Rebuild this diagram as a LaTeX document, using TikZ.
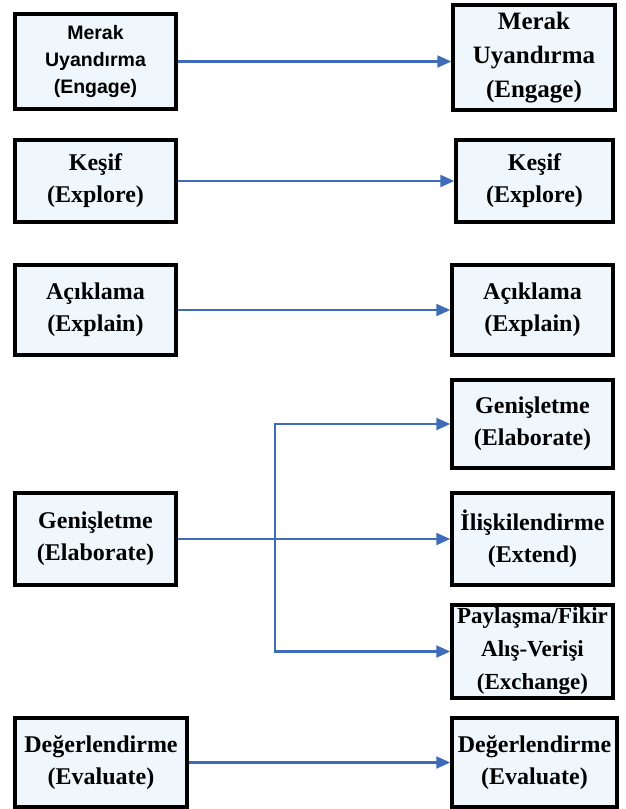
\documentclass[tikz,border=0pt]{standalone}
\usepackage{fontspec}
\setmainfont{Liberation Serif}
\newfontfamily\arialf{Liberation Sans}
\usetikzlibrary{arrows.meta}
\definecolor{boxfill}{RGB}{240,247,252}
\definecolor{arrblue}{RGB}{63,108,184}
\tikzset{
  stagebox/.style={draw=black, line width=3.5pt, fill=boxfill, inner sep=0pt, align=center,
    font=\fontsize{24}{32}\selectfont\bfseries},
  sansbox/.style={stagebox, font=\arialf\fontsize{19.5}{27}\selectfont\bfseries},
  flow/.style={draw=arrblue, line width=2.2pt, -{Triangle[length=14pt,width=12pt]}},
  flowline/.style={draw=arrblue, line width=2.2pt}
}
\begin{document}
\begin{tikzpicture}[x=1pt,y=-1pt]
\useasboundingbox (0,0) rectangle (625,809);
% left column
\node[sansbox, minimum width=161pt, minimum height=95pt] (L1) at (95.5,61.5) {Merak\\Uyandırma\\(Engage)};
\node[stagebox, minimum width=161pt, minimum height=82pt] (L2) at (95.5,181) {Keşif\\(Explore)};
\node[stagebox, minimum width=161pt, minimum height=90pt] (L3) at (95.5,310) {Açıklama\\(Explain)};
\node[stagebox, minimum width=161pt, minimum height=92pt] (L5) at (95.5,539) {Genişletme\\(Elaborate)};
\node[stagebox, minimum width=172pt, minimum height=89pt] (L7) at (101,762.5) {Değerlendirme\\(Evaluate)};
% right column
\node[stagebox, minimum width=162pt, minimum height=105pt, font=\fontsize{25}{34}\selectfont\bfseries] (R1) at (534,57.5) {Merak\\Uyandırma\\(Engage)};
\node[stagebox, minimum width=157pt, minimum height=82pt] (R2) at (534.5,181) {Keşif\\(Explore)};
\node[stagebox, minimum width=161pt, minimum height=90pt] (R3) at (532.5,310) {Açıklama\\(Explain)};
\node[stagebox, minimum width=161pt, minimum height=88pt] (R4) at (532.5,424) {Genişletme\\(Elaborate)};
\node[stagebox, minimum width=161pt, minimum height=92pt] (R5) at (532.5,539) {İlişkilendirme\\(Extend)};
\node[stagebox, minimum width=161pt, minimum height=93pt, font=\fontsize{23}{33}\selectfont\bfseries] (R6) at (532.5,651.5) {Paylaşma/Fikir\\Alış-Verişi\\(Exchange)};
\node[stagebox, minimum width=165pt, minimum height=89pt] (R7) at (534.5,762.5) {Değerlendirme\\(Evaluate)};
% connectors
\draw[flow] (L1.east) -- (L1.east -| R1.west);
\draw[flow] (L2.east) -- (R2.west);
\draw[flow] (L3.east) -- (R3.west);
\draw[flow] (L5.east) -- (R5.west);
\coordinate (J) at (275,539);
\draw[flow] (J) |- (R4.west);
\draw[flow] (J) |- (R6.west);
\draw[flow] (L7.east) -- (R7.west);
\end{tikzpicture}
\end{document}
